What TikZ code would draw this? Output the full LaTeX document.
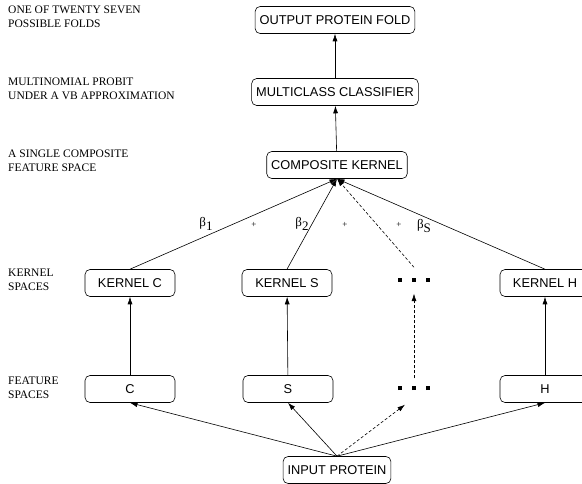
\documentclass[tikz,border=0pt]{standalone}
\usepackage{fontspec}
\setmainfont{Liberation Serif}
\setsansfont{Liberation Sans}
\usetikzlibrary{arrows.meta}
\tikzset{
  stage/.style={
    rectangle,
    draw=black,
    line width=0.6pt,
    rounded corners=5pt,
    minimum height=27pt,
    inner xsep=4.5pt,
    font=\sffamily\fontsize{12.8}{14}\selectfont
  },
  space/.style={
    stage,
    minimum width=90pt
  },
  dotsbox/.style={
    rectangle,
    minimum width=40pt,
    minimum height=25pt,
    inner sep=0pt
  },
  sidelabel/.style={
    anchor=north west,
    align=left,
    inner sep=0pt,
    font=\fontsize{11.5}{14}\selectfont
  },
  weight/.style={
    inner sep=0pt,
    font=\fontsize{13}{14}\selectfont
  },
  plus/.style={
    inner sep=0pt,
    font=\fontsize{9}{10}\selectfont
  },
  connection/.style={
    line width=0.6pt,
    -{Latex[length=7.5pt,width=5pt]}
  },
  dashedconnection/.style={
    connection,
    dash pattern=on 3pt off 2pt
  }
}
\newcommand{\dotrow}{\rule{4pt}{4pt}\hspace{10pt}\rule{4pt}{4pt}\hspace{10pt}\rule{4pt}{4pt}}

\begin{document}
\begin{tikzpicture}[x=1pt,y=-1pt]
  \useasboundingbox (0,0) rectangle (582,484);

  % Left hand descriptions
  \node[sidelabel] (lab-fold) at (8,6) {ONE OF TWENTY SEVEN\\POSSIBLE FOLDS};
  \node[sidelabel] (lab-probit) at (8,78) {MULTINOMIAL PROBIT\\UNDER A VB APPROXIMATION};
  \node[sidelabel] (lab-comp) at (8,150) {A SINGLE COMPOSITE\\FEATURE SPACE};
  \node[sidelabel] (lab-kernel) at (8,269) {KERNEL\\SPACES};
  \node[sidelabel] (lab-feature) at (8,377) {FEATURE\\SPACES};

  % Top of the hierarchy
  \node[stage] (fold) at (335,20) {OUTPUT PROTEIN FOLD};
  \node[stage] (classifier) at (335,92) {MULTICLASS CLASSIFIER};
  \node[stage] (comp) at (337,165) {COMPOSITE KERNEL};

  % Kernel spaces
  \node[space] (kC) at (130,283) {KERNEL C};
  \node[space] (kS) at (287,283) {KERNEL S};
  \node[dotsbox] (kdots) at (414,280) {\dotrow};
  \node[space] (kH) at (545,283) {KERNEL H};

  % Feature spaces
  \node[space] (fC) at (130,389) {C};
  \node[space] (fS) at (288,389) {S};
  \node[dotsbox] (fdots) at (414,388) {\dotrow};
  \node[space] (fH) at (545,389) {H};

  \node[stage] (input) at (337,470) {INPUT PROTEIN};

  % Connections
  \draw[connection] (classifier) -- (fold);
  \draw[connection] (comp) -- (classifier);

  \draw[connection] (kC.north) -- (comp.south);
  \draw[connection] (kS.north) -- (comp.south);
  \draw[dashedconnection] (kdots.north) -- (comp.south);
  \draw[connection] (kH.north) -- (comp.south);

  \draw[connection] (fC) -- (kC);
  \draw[connection] (fS) -- (kS);
  \draw[dashedconnection] ([yshift=-3pt]fdots.north) -- ([yshift=-1pt]kdots.south);
  \draw[connection] (fH) -- (kH);

  \draw[connection] (input.north) -- (fC.south);
  \draw[connection] (input.north) -- (fS.south);
  \draw[dashedconnection] (input.north) -- ([xshift=-9pt,yshift=-4pt]fdots.south);
  \draw[connection] (input.north) -- (fH.south);

  % Weights of the combination
  \node[weight] (b1) at (206,224) {β\raisebox{-4pt}{1}};
  \node[plus] (p1) at (254,225) {+};
  \node[weight] (b2) at (302,224) {β\raisebox{-4pt}{2}};
  \node[plus] (p2) at (345,225) {+};
  \node[plus] (p3) at (399,225) {+};
  \node[weight] (bS) at (424,226) {β\raisebox{-4pt}{S}};
\end{tikzpicture}
\end{document}
